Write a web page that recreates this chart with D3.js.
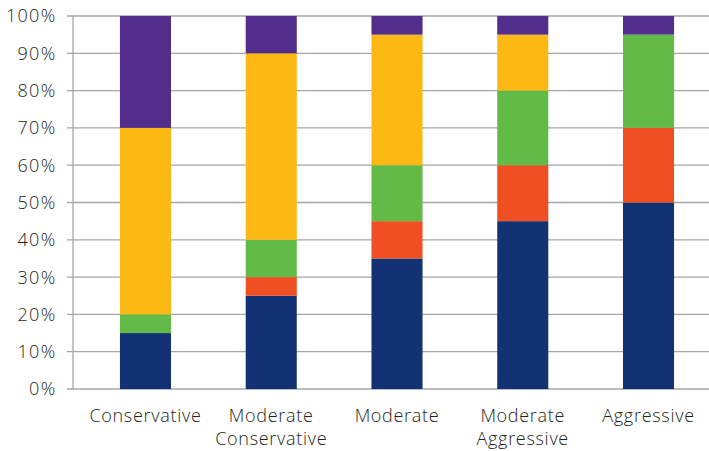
<!DOCTYPE html>
<html>
<head>
<meta charset="utf-8">
<script src="https://cdn.jsdelivr.net/npm/d3@7"></script>
<style>
  html, body { margin: 0; padding: 0; background: #fff; }
  svg text { font-family: "Open Sans", Lato, sans-serif; font-weight: 350; fill: #231f20; }
  .tick-label { letter-spacing: 1.3px; }
  .cat-label { letter-spacing: 0.7px; }
</style>
</head>
<body>
<svg id="chart" width="709" height="451"></svg>
<script>
// Portfolio allocation by risk profile (percent of portfolio)
const categories = [
  ["Conservative"],
  ["Moderate", "Conservative"],
  ["Moderate"],
  ["Moderate", "Aggressive"],
  ["Aggressive"]
];
const seriesNames = ["s1", "s2", "s3", "s4", "s5"];
const seriesColors = ["#123274", "#f04e23", "#62bb46", "#fdb813", "#522d8c"];
const s1 = [15, 25, 35, 45, 50];
const s2 = [0, 5, 10, 15, 20];
const s3 = [5, 10, 15, 20, 25];
const s4 = [50, 50, 35, 15, 0];
const s5 = [30, 10, 5, 5, 5];
const yTicks = [0, 10, 20, 30, 40, 50, 60, 70, 80, 90, 100];

const seriesValues = [s1, s2, s3, s4, s5];
const rows = categories.map((c, i) => {
  const r = { key: c.join(" ") };
  seriesNames.forEach((s, j) => { r[s] = seriesValues[j][i]; });
  return r;
});

const svg = d3.select("#chart");
const axisX = 73, plotRight = 709, yTop = 16, yBottom = 389;

const x = d3.scaleBand()
  .domain(rows.map(r => r.key))
  .range([82.6, 711.4])
  .paddingInner(0.594)
  .paddingOuter(0.297);
const y = d3.scaleLinear().domain([0, 100]).range([yBottom, yTop]);

// gridlines and left tick marks
const grid = svg.append("g");
grid.selectAll("line.grid").data(yTicks).join("line")
  .attr("x1", axisX - 6).attr("x2", plotRight)
  .attr("y1", d => y(d)).attr("y2", d => y(d))
  .attr("stroke", "#a6a6a6").attr("stroke-width", 1.3);

// stacked bars
const stack = d3.stack().keys(seriesNames)(rows);
svg.append("g").selectAll("g").data(stack).join("g")
  .attr("fill", (d, i) => seriesColors[i])
  .selectAll("rect").data(d => d).join("rect")
  .attr("x", d => x(d.data.key))
  .attr("width", x.bandwidth())
  .attr("y", d => y(d[1]))
  .attr("height", d => y(d[0]) - y(d[1]));

// vertical axis line
svg.append("line")
  .attr("x1", axisX).attr("x2", axisX)
  .attr("y1", yTop).attr("y2", yBottom)
  .attr("stroke", "#a6a6a6").attr("stroke-width", 1.3);

// y tick labels
svg.append("g").selectAll("text").data(yTicks).join("text")
  .attr("class", "tick-label")
  .attr("x", 56.5).attr("y", d => y(d))
  .attr("dy", "0.36em")
  .attr("text-anchor", "end")
  .attr("font-size", 18)
  .text(d => d + "%");

// category labels
const cat = svg.append("g").selectAll("text").data(rows).join("text")
  .attr("class", "cat-label")
  .attr("text-anchor", "middle")
  .attr("font-size", 18)
  .attr("x", d => x(d.key) + x.bandwidth() / 2)
  .attr("y", 422);
cat.each(function(d, i) {
  const t = d3.select(this);
  categories[i].forEach((line, k) => {
    t.append("tspan")
      .attr("x", x(d.key) + x.bandwidth() / 2)
      .attr("dy", k === 0 ? 0 : 23)
      .text(line);
  });
});
</script>
</body>
</html>
